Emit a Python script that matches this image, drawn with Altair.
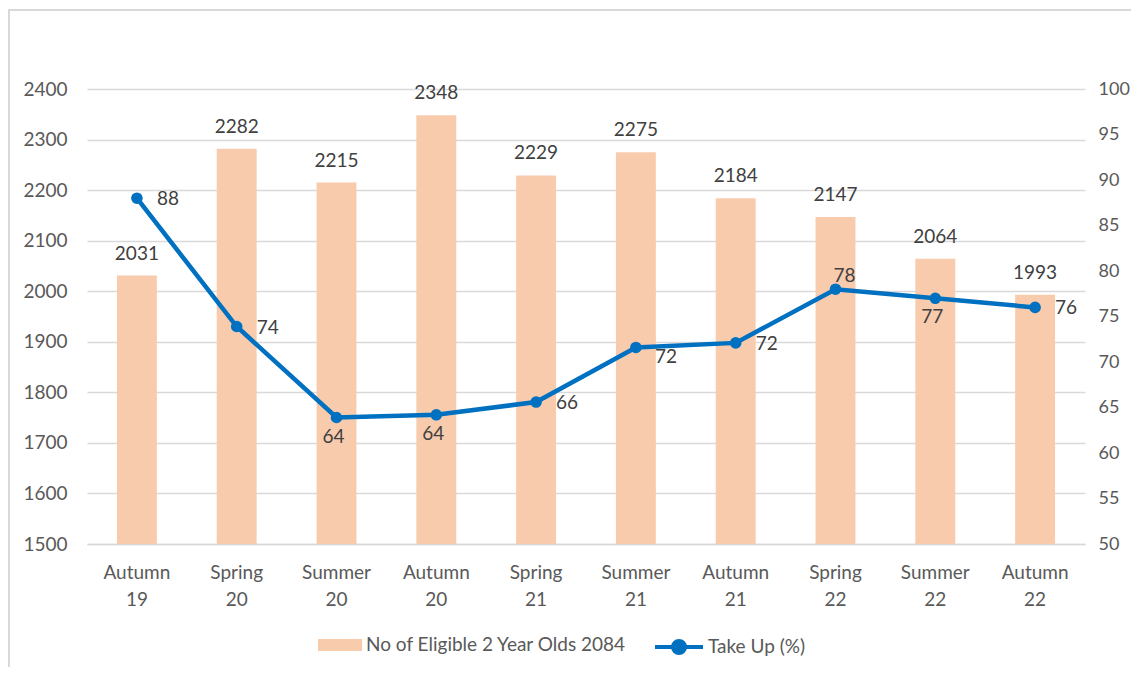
import altair as alt
import pandas as pd

# ---- data ----
categories = ["Autumn 19", "Spring 20", "Summer 20", "Autumn 20", "Spring 21",
              "Summer 21", "Autumn 21", "Spring 22", "Summer 22", "Autumn 22"]
eligible = [2031, 2282, 2215, 2348, 2229, 2275, 2184, 2147, 2064, 1993]
take_up = [88.0, 73.9, 63.9, 64.2, 65.6, 71.6, 72.1, 78.0, 77.0, 76.0]
bar_name = "No of Eligible 2 Year Olds 2084"
line_name = "Take Up (%)"

# ---- style ----
label_place = ["right", "right", "below", "below", "right",
               "rightbelow", "right", "above", "below", "right"]
place_style = {
    "right": dict(align="left", dx=20, dy=1),
    "rightbelow": dict(align="left", dx=19, dy=10),
    "below": dict(align="center", dx=-3, dy=19),
    "above": dict(align="center", dx=9, dy=-13),
}
FONT = "Lato"
FS = 19
AXIS_COL = "#595959"
LABEL_COL = "#404040"
BAR_COL = "#F8CBAD"
LINE_COL = "#0070C0"
GRID_COL = "#d9d9d9"

df = pd.DataFrame({
    "cat": categories,
    "eligible": eligible,
    "takeup": take_up,
    "place": label_place,
    "bar_series": [bar_name] * len(categories),
    "line_series": [line_name] * len(categories),
})

x_enc = alt.X(
    "cat:N", sort=categories,
    scale=alt.Scale(paddingInner=0.6, paddingOuter=0.3),
    axis=alt.Axis(title=None, labelAngle=0, labelExpr="split(datum.label, ' ')",
                  ticks=False, domain=True, domainColor=GRID_COL, domainWidth=1.3,
                  labelPadding=19, labelLineHeight=27, labelFont=FONT,
                  labelFontSize=FS, labelColor=AXIS_COL, labelBaseline="top"),
)

y_left = alt.Y(
    "eligible:Q",
    scale=alt.Scale(domain=[1500, 2400], nice=False, zero=False),
    axis=alt.Axis(title=None, values=list(range(1500, 2401, 100)), format="d",
                  ticks=False, domain=False, grid=True, gridColor=GRID_COL,
                  gridWidth=1.3, labelPadding=20, labelFont=FONT, labelFontSize=FS,
                  labelColor=AXIS_COL),
)

y_right = alt.Y(
    "takeup:Q",
    scale=alt.Scale(domain=[50, 100], nice=False, zero=False),
    axis=alt.Axis(title=None, orient="right", values=list(range(50, 101, 5)),
                  format="d", ticks=False, domain=False, grid=False,
                  labelPadding=13, labelFont=FONT, labelFontSize=18,
                  labelColor=AXIS_COL),
)

base = alt.Chart(df)

bars = base.mark_bar().encode(
    x=x_enc,
    y=y_left,
    y2=alt.datum(1500),
    fill=alt.Fill("bar_series:N",
                  scale=alt.Scale(domain=[bar_name], range=[BAR_COL]),
                  legend=alt.Legend(
                      title=None, orient="none", legendX=231, legendY=534,
                      padding=0, symbolType="M-1,-0.27L1,-0.27L1,0.27L-1,0.27Z",
                      symbolSize=1936, symbolStrokeWidth=0, labelOffset=4,
                      labelLimit=500,
                      labelFont=FONT, labelFontSize=FS, labelColor=AXIS_COL)),
)

bar_labels = base.mark_text(baseline="middle", dy=-22, font=FONT, fontSize=FS,
                            color=LABEL_COL).encode(
    x=x_enc, y=y_left, text=alt.Text("eligible:Q", format="d"))

line = base.mark_line(strokeWidth=4.5).encode(
    x=x_enc,
    y=y_right,
    stroke=alt.Stroke("line_series:N",
                      scale=alt.Scale(domain=[line_name], range=[LINE_COL]),
                      legend=alt.Legend(
                          title=None, orient="none", legendX=566, legendY=532,
                          padding=0,
                          symbolType="M-1,0L1,0M-0.25,0A0.25,0.25,0,1,0,0.25,0A0.25,0.25,0,1,0,-0.25,0Z",
                          symbolSize=2304, symbolStrokeWidth=4,
                          symbolFillColor=LINE_COL, labelOffset=3,
                          labelLimit=500,
                          labelFont=FONT, labelFontSize=FS, labelColor=AXIS_COL)),
)

points = base.mark_point(filled=True, size=135, opacity=1, color=LINE_COL).encode(
    x=x_enc, y=y_right)

line_label_layers = []
for place, st in place_style.items():
    line_label_layers.append(
        base.transform_filter(alt.datum.place == place)
        .mark_text(baseline="middle", font=FONT, fontSize=FS, color=LABEL_COL, **st)
        .encode(x=x_enc, y=y_right, text=alt.Text("takeup:Q", format=".0f"))
    )

frame = alt.Chart(pd.DataFrame({"f": [0]})).mark_rect(
    fill=None, stroke=GRID_COL, strokeWidth=2).encode(
    x=alt.value(-78), x2=alt.value(1200), y=alt.value(-79), y2=alt.value(700))

left = alt.layer(bars, bar_labels)
right = alt.layer(line, points, *line_label_layers)

chart = alt.layer(frame, left, right).resolve_scale(y="independent").properties(
    width=998, height=455,
    padding={"left": 79, "top": 81, "right": 46, "bottom": 123},
    autosize=alt.AutoSizeParams(type="none"),
    background="white",
).configure_view(stroke=None)

chart.save("out.html", embed_options={"renderer": "svg", "actions": False})
